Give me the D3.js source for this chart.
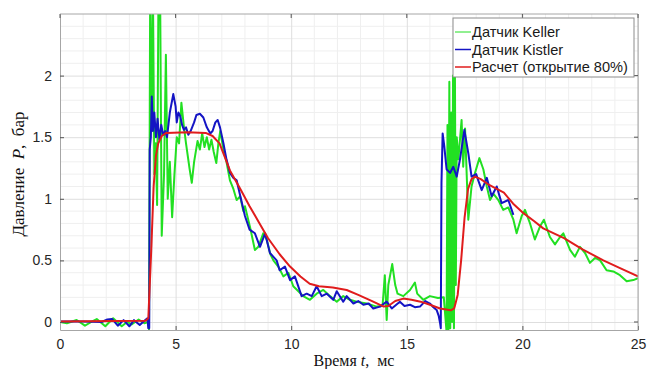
<!DOCTYPE html>
<html>
<head>
<meta charset="utf-8">
<script src="https://cdn.jsdelivr.net/npm/d3@7/dist/d3.min.js"></script>
<style>
  body { margin: 0; background: #fff; }
  svg { display: block; }
</style>
</head>
<body>
<div id="chart"></div>
<script>
// time, ms
var xTicks = [0, 5, 10, 15, 20, 25];
var yTicks = [0, 0.5, 1, 1.5, 2];
var yTickLabels = ["0", "0.5", "1", "1.5", "2"];
var legendLabels = ["Датчик Keller", "Датчик Kistler", "Расчет (открытие 80%)"];

// Датчик Keller
var kellerT = [0, 0.3, 0.72, 1.08, 1.35, 1.59, 1.96, 2.3, 2.67, 2.9, 3.1, 3.4, 3.65, 3.8, 3.85,
  3.9, 3.97, 4.02, 4.08, 4.14, 4.2, 4.26, 4.33, 4.4, 4.5, 4.58, 4.66, 4.75, 4.85, 4.95,
  5.05, 5.15, 5.25, 5.35, 5.45, 5.6, 5.7, 5.8, 5.95, 6.05, 6.15, 6.25, 6.35, 6.45, 6.55,
  6.65, 6.76, 6.85, 6.93, 7.05, 7.2, 7.35, 7.5, 7.64, 7.79, 7.93, 8.0, 8.22, 8.43, 8.58,
  8.79, 8.94, 9.1, 9.23, 9.44, 9.66, 9.88, 10.09, 10.31, 10.52, 10.81, 11.1, 11.39, 11.68,
  11.97, 12.25, 12.54, 12.83, 13.26, 13.7, 13.95, 14.05, 14.13, 14.2, 14.37, 14.5, 14.6,
  14.85, 15.14, 15.35, 15.45, 15.71, 16.0, 16.35, 16.6, 16.72, 16.76, 16.8, 16.84, 16.88,
  16.92, 16.96, 17.0, 17.04, 17.08, 17.12, 17.16, 17.23, 17.37, 17.44, 17.52, 17.66, 17.8,
  17.95, 18.14, 18.31, 18.46, 18.6, 18.75, 18.96, 19.17, 19.39, 19.61, 19.75, 19.97, 20.11,
  20.33, 20.54, 20.76, 20.93, 21.19, 21.41, 21.63, 21.77, 22.06, 22.27, 22.49, 22.71, 22.92,
  23.14, 23.36, 23.64, 23.93, 24.22, 24.51, 24.8, 25.0];
var kellerP = [0, -0.01, 0.016, -0.03, 0.0, 0.024, -0.035, 0.03, -0.035, 0.0, -0.02, 0.02, -0.01, 0.0, -0.06,
  2.7, 1.55, 2.7, 1.2, 1.45, 0.95, 2.7, 2.7, 0.7, 1.2, 2.17, 1.0, 1.3, 0.85, 1.2,
  1.5, 1.45, 1.78, 1.6, 1.45, 1.25, 1.13, 1.3, 1.47, 1.4, 1.53, 1.42, 1.5, 1.4, 1.48,
  1.38, 1.29, 1.45, 1.55, 1.42, 1.3, 1.15, 1.08, 0.99, 1.02, 0.9, 0.94, 0.77, 0.585, 0.61,
  0.72, 0.67, 0.55, 0.5, 0.45, 0.37, 0.4, 0.29, 0.25, 0.21, 0.18, 0.23, 0.26, 0.21,
  0.165, 0.21, 0.18, 0.165, 0.15, 0.125, 0.13, 0.38, 0.016, 0.3, 0.47, 0.3, 0.23,
  0.21, 0.26, 0.32, 0.23, 0.18, 0.21, 0.195, 0.2, -0.08, 1.6, -0.08, 1.95, -0.05,
  1.7, 0.0, 2.0, -0.05, 2.1, 0.3, 1.5, 1.32, 1.64, 1.26, 1.57, 0.83, 1.1,
  1.21, 1.33, 1.24, 1.1, 0.99, 1.04, 0.99, 0.91, 0.93, 0.83, 0.72, 0.86, 0.91,
  0.8, 0.67, 0.775, 0.83, 0.69, 0.63, 0.69, 0.72, 0.585, 0.53, 0.61, 0.56, 0.48,
  0.52, 0.5, 0.42, 0.41, 0.38, 0.33, 0.34, 0.355];

// Датчик Kistler
var kistlerT = [0, 1.0, 1.8, 2.05, 2.25, 2.5, 2.75, 3.0, 3.2, 3.45, 3.65, 3.78, 3.82, 3.86,
  3.88, 3.93, 3.97, 4.02, 4.08, 4.15, 4.22, 4.3, 4.38, 4.46, 4.55, 4.63, 4.75, 4.9, 5.0,
  5.05, 5.12, 5.2, 5.28, 5.36, 5.45, 5.55, 5.65, 5.8, 5.9, 6.05, 6.2, 6.35, 6.5, 6.6,
  6.72, 6.82, 6.92, 7.07, 7.2, 7.35, 7.5, 7.64, 7.8, 8.0, 8.2, 8.43, 8.65, 8.87, 9.08,
  9.37, 9.5, 9.73, 9.95, 10.16, 10.45, 10.67, 10.89, 11.1, 11.32, 11.54, 11.82, 11.97,
  12.25, 12.4, 12.69, 12.9, 13.12, 13.35, 13.55, 13.84, 14.13, 14.35, 14.7, 14.9, 15.14,
  15.35, 15.57, 15.8, 16.0, 16.15, 16.29, 16.38, 16.44, 16.47, 16.5, 16.55, 16.62, 16.72,
  16.87, 17.01, 17.16, 17.3, 17.49, 17.66, 17.8, 18.0, 18.09, 18.24, 18.46, 18.67, 18.89,
  19.1, 19.39, 19.61];
var kistlerP = [0.005, 0.005, 0.0, 0.02, 0.025, -0.03, 0.015, -0.035, 0.015, -0.025, 0.01, 0.03, -0.05, -0.05,
  1.4, 1.5, 1.83, 1.55, 1.7, 1.5, 1.65, 1.48, 1.6, 1.52, 1.55, 1.5, 1.7, 1.85, 1.75,
  1.62, 1.7, 1.67, 1.6, 1.56, 1.58, 1.52, 1.55, 1.62, 1.68, 1.69, 1.66, 1.58, 1.53, 1.55,
  1.62, 1.64, 1.58, 1.45, 1.32, 1.21, 1.17, 1.15, 1.02, 0.86, 0.75, 0.72, 0.61, 0.72, 0.56,
  0.5, 0.42, 0.45, 0.34, 0.37, 0.21, 0.23, 0.21, 0.29, 0.21, 0.23, 0.18, 0.25,
  0.165, 0.21, 0.15, 0.17, 0.14, 0.15, 0.11, 0.125, 0.165, 0.11, 0.165, 0.13, 0.14,
  0.12, 0.125, 0.17, 0.15, 0.12, 0.098, 0.05, -0.01, -0.05, 1.13, 1.53, 1.43, 1.24,
  1.21, 1.26, 1.18, 1.32, 1.56, 1.37, 1.18, 1.2, 1.15, 1.07, 1.17, 1.02, 1.1,
  0.965, 0.99, 0.87];

// Расчет (открытие 80%)
var calcT = [0, 3.7, 3.82, 3.95, 4.05, 4.15, 4.25, 4.4, 4.6, 5.5, 6.3, 6.6, 6.9, 7.35, 7.8,
  8.2, 8.6, 9.0, 9.5, 9.95, 10.4, 10.8, 11.2, 11.8, 12.4, 12.9, 13.5, 14.0, 14.2, 14.5,
  14.85, 15.2, 15.6, 16.0, 16.44, 16.9, 17.05, 17.2, 17.35, 17.5, 17.65, 17.8, 17.95,
  18.2, 18.5, 19.2, 19.6, 20.0, 20.5, 20.9, 21.8, 22.6, 23.5, 24.2, 25.0];
var calcP = [0.005, 0.01, 0.03, 0.6, 1.1, 1.35, 1.45, 1.51, 1.535, 1.54, 1.535, 1.51, 1.45, 1.23, 1.08,
  0.94, 0.81, 0.68, 0.55, 0.45, 0.37, 0.31, 0.29, 0.28, 0.26, 0.22, 0.17, 0.125, 0.13, 0.17,
  0.19, 0.18, 0.165, 0.14, 0.11, 0.095, 0.11, 0.22, 0.5, 0.85, 1.08, 1.16, 1.18,
  1.16, 1.12, 1.05, 0.96, 0.89, 0.82, 0.76, 0.68, 0.59, 0.5, 0.44, 0.37];

var W = 649, H = 369;
var margin = { left: 60, right: 11, top: 14, bottom: 39 };
var width = W - margin.left - margin.right,
  height = H - margin.top - margin.bottom;

var svg = d3.select("#chart").append("svg")
  .attr("width", W)
  .attr("height", H);

var x = d3.scaleLinear().domain([0, 25]).range([0, width]);
var y = d3.scaleLinear().domain([-0.065, 2.5]).range([height, 0]);

var g = svg.append("g")
  .attr("transform", "translate(" + margin.left + "," + margin.top + ")");

// minor grid
var minorX = d3.range(1, 25).filter(function (d) { return d % 5 != 0; });
var minorY = d3.range(1, 25).map(function (d) { return d / 10; }).filter(function (d, i) { return (i + 1) % 5 != 0; });
g.selectAll(".mx").data(minorX).enter().append("line")
  .attr("x1", function (d) { return x(d); }).attr("x2", function (d) { return x(d); })
  .attr("y1", 0).attr("y2", height)
  .attr("stroke", "#efefef").attr("stroke-width", 1);
g.selectAll(".my").data(minorY).enter().append("line")
  .attr("y1", function (d) { return y(d); }).attr("y2", function (d) { return y(d); })
  .attr("x1", 0).attr("x2", width)
  .attr("stroke", "#efefef").attr("stroke-width", 1);

// major grid
g.append("g")
  .attr("transform", "translate(0," + height + ")")
  .call(d3.axisBottom(x).tickValues(xTicks).tickSize(-height).tickFormat(""))
  .call(function (a) { a.select(".domain").remove(); a.selectAll("line").attr("stroke", "#dedede"); });
g.append("g")
  .call(d3.axisLeft(y).tickValues(yTicks).tickSize(-width).tickFormat(""))
  .call(function (a) { a.select(".domain").remove(); a.selectAll("line").attr("stroke", "#dedede"); });

// lines
g.append("clipPath").attr("id", "clip")
  .append("rect").attr("width", width).attr("height", height);

var line = d3.line()
  .x(function (d) { return x(d[0]); })
  .y(function (d) { return y(d[1]); });

var series = [
  { t: kellerT, p: kellerP, color: "#22e022", w: 2 },
  { t: kistlerT, p: kistlerP, color: "#1414c4", w: 2 },
  { t: calcT, p: calcP, color: "#e01c1c", w: 2 }
];
series.forEach(function (s) {
  g.append("path")
    .datum(d3.zip(s.t, s.p))
    .attr("clip-path", "url(#clip)")
    .attr("fill", "none")
    .attr("stroke", s.color)
    .attr("stroke-width", s.w)
    .attr("stroke-linejoin", "round")
    .attr("d", line);
});

// axes
var xAxis = g.append("g")
  .attr("transform", "translate(0," + height + ")")
  .call(d3.axisBottom(x).tickValues(xTicks).tickSizeInner(-4).tickSizeOuter(0).tickPadding(9));
var yAxis = g.append("g")
  .call(d3.axisLeft(y).tickValues(yTicks).tickSizeInner(-4).tickSizeOuter(0).tickPadding(8)
    .tickFormat(function (d, i) { return yTickLabels[i]; }));
[xAxis, yAxis].forEach(function (a) {
  a.select(".domain").attr("stroke", "#a6a6a6");
  a.selectAll(".tick line").attr("stroke", "#555");
  a.selectAll("text").attr("fill", "#262626")
    .style("font-family", "Liberation Sans, Arial, sans-serif").style("font-size", "14px");
});
// top / right box
g.append("line").attr("x1", 0).attr("x2", width).attr("y1", 0).attr("y2", 0).attr("stroke", "#a6a6a6");
g.append("line").attr("x1", width).attr("x2", width).attr("y1", 0).attr("y2", height).attr("stroke", "#a6a6a6");
g.selectAll(".tt").data(xTicks).enter().append("line")
  .attr("x1", function (d) { return x(d); }).attr("x2", function (d) { return x(d); })
  .attr("y1", 0).attr("y2", 4).attr("stroke", "#555");
g.selectAll(".rt").data(yTicks).enter().append("line")
  .attr("y1", function (d) { return y(d); }).attr("y2", function (d) { return y(d); })
  .attr("x1", width).attr("x2", width - 4).attr("stroke", "#555");

// axis titles
var xt = svg.append("text")
  .attr("x", margin.left + width / 2 + 5).attr("y", 366)
  .attr("text-anchor", "middle")
  .style("font-family", "Liberation Serif, Times New Roman, serif").style("font-size", "16px")
  .attr("fill", "#111");
xt.append("tspan").text("Время ");
xt.append("tspan").style("font-style", "italic").text("t");
xt.append("tspan").text(",\u00a0\u00a0мс");

var yt = svg.append("text")
  .attr("transform", "translate(24," + (margin.top + height / 2 + 2) + ") rotate(-90)")
  .attr("text-anchor", "middle")
  .style("font-family", "Liberation Serif, Times New Roman, serif").style("font-size", "17px")
  .attr("fill", "#111");
yt.append("tspan").text("Давление\u00a0\u00a0");
yt.append("tspan").style("font-style", "italic").text("P");
yt.append("tspan").text(",\u00a0\u00a0бар");

// legend
var lg = svg.append("g").attr("transform", "translate(453,18)");
lg.append("rect").attr("width", 181).attr("height", 59)
  .attr("fill", "#fff").attr("stroke", "#8c8c8c").attr("stroke-width", 1);
legendLabels.forEach(function (d, i) {
  var yy = 14 + i * 17.5;
  lg.append("line").attr("x1", 2).attr("x2", 18).attr("y1", yy).attr("y2", yy)
    .attr("stroke", series[i].color).attr("stroke-width", i == 0 ? 1 : 1.5);
  lg.append("text").attr("x", 19).attr("y", yy + 5).text(d)
    .style("font-family", "Liberation Sans, Arial, sans-serif").style("font-size", "14.6px")
    .attr("fill", "#1a1a1a");
});
</script>
</body>
</html>
